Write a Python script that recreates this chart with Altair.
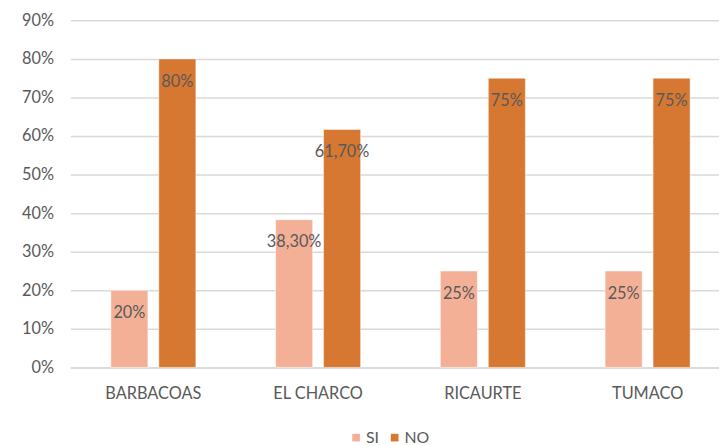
import altair as alt
import pandas as pd

categories = ["BARBACOAS", "EL CHARCO", "RICAURTE", "TUMACO"]
series = ["SI", "NO"]
si_values = [0.20, 0.383, 0.25, 0.25]
no_values = [0.80, 0.617, 0.75, 0.75]
si_labels = ["20%", "38,30%", "25%", "25%"]
no_labels = ["80%", "61,70%", "75%", "75%"]
y_ticks = [0.0, 0.1, 0.2, 0.3, 0.4, 0.5, 0.6, 0.7, 0.8, 0.9]

rows = []
for i, c in enumerate(categories):
    rows.append({"cat": c, "serie": "SI", "val": si_values[i], "lab": si_labels[i]})
    rows.append({"cat": c, "serie": "NO", "val": no_values[i], "lab": no_labels[i]})
df = pd.DataFrame(rows)

FONT = "Lato"
GRAY = "#595959"

x = alt.X("cat:N", sort=categories, title=None,
          scale=alt.Scale(paddingInner=0.4838, paddingOuter=0.2107, align=0.584, round=False),
          axis=alt.Axis(labelAngle=0, ticks=False, domainColor="#D9D9D9", domainWidth=1.5,
                        labelColor=GRAY, labelFontSize=16.5, labelFont=FONT, labelPadding=18))
xo = alt.XOffset("serie:N", sort=series,
                 scale=alt.Scale(paddingInner=0.2268, paddingOuter=0, round=False))
y = alt.Y("val:Q", title=None,
          scale=alt.Scale(domain=[0, 0.9], nice=False, zero=True),
          axis=alt.Axis(format=".0%", values=y_ticks, ticks=False, domain=False, labelOverlap=False,
                        gridColor="#D9D9D9", gridWidth=1.5, labelColor=GRAY, labelFontSize=16.5,
                        labelFont=FONT, labelPadding=17))

base = alt.Chart(df).encode(x=x, xOffset=xo, y=y)
bars = base.mark_bar(stroke="white", strokeWidth=0.5).encode(
    color=alt.Color("serie:N", sort=series, title=None,
                    scale=alt.Scale(domain=series, range=["#F4B096", "#D67832"]),
                    legend=alt.Legend(orient="none", legendX=281, legendY=414, direction="horizontal",
                                      symbolType="square", symbolSize=60, symbolStrokeWidth=0,
                                      labelFontSize=16, labelFont=FONT, labelColor=GRAY,
                                      columnPadding=7, symbolOffset=0, labelOffset=2)),
)
text = base.mark_text(baseline="middle", dy=23, fontSize=16.5, font=FONT, color=GRAY).encode(
    text="lab:N"
)

chart = (bars + text).properties(
    width=656, height=351,
    autosize=alt.AutoSizeParams(type="none"),
    padding={"left": 63, "top": 10, "right": 0, "bottom": 77},
).configure_view(stroke=None)

chart.save("out.html", embed_options={"renderer": "svg", "actions": False})
